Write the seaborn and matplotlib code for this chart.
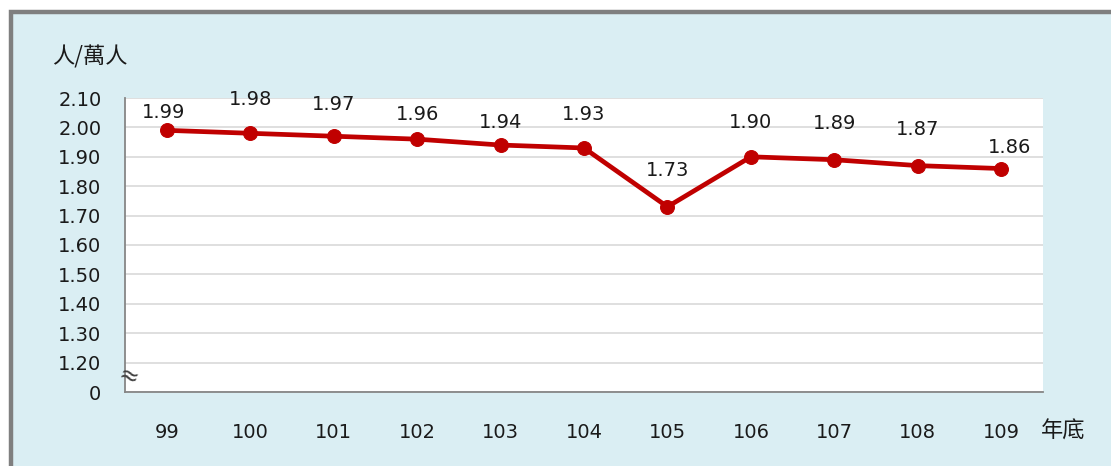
import matplotlib
matplotlib.use("Agg")
import matplotlib.pyplot as plt
from matplotlib.patches import Rectangle
import seaborn as sns
import pandas as pd
import numpy as np

years = ["99", "100", "101", "102", "103", "104", "105", "106", "107", "108", "109"]
rates = [1.99, 1.98, 1.97, 1.96, 1.94, 1.93, 1.73, 1.90, 1.89, 1.87, 1.86]
ytick_values = [1.10, 1.20, 1.30, 1.40, 1.50, 1.60, 1.70, 1.80, 1.90, 2.00, 2.10]
ytick_labels = ["0", "1.20", "1.30", "1.40", "1.50", "1.60", "1.70", "1.80", "1.90", "2.00", "2.10"]
y_unit = "人/萬人"
x_unit = "年底"

# label offsets (points) for the value annotations
label_dy = [13, 24, 23, 18, 16, 24, 26, 25, 26, 26, 15]
label_dx = [-2, 0, 0, 0, 0, 0, 0, 0, 0, 0, 6]

sns.set_theme(style="white")
plt.rcParams['font.family'] = ['DejaVu Sans', 'Noto Sans CJK TC']

fig = plt.figure(figsize=(11.11, 4.66), dpi=100, facecolor="white")
bg = Rectangle((11/1111, -0.2), 1.2, (466-12)/466 + 0.2, transform=fig.transFigure,
               facecolor="#DAEEF3", edgecolor="#7F7F7F", lw=3.2, zorder=-10)
fig.add_artist(bg)

ax = fig.add_axes([125/1111, 74/466, 918/1111, 294/466])
ax.set_facecolor("white")

df = pd.DataFrame({"year": years, "rate": rates})
sns.lineplot(data=df, x="year", y="rate", ax=ax, color="#C00000", lw=3.4,
             marker="o", markersize=10, markeredgecolor="#C00000", sort=False)

ax.set_xlim(-0.5, len(years) - 0.5)
ax.set_ylim(ytick_values[0], ytick_values[-1])
ax.set_yticks(ytick_values)
ax.set_yticklabels(ytick_labels)
ax.set_xticks(range(len(years)))
ax.set_xticklabels(years)
ax.set_xticks(np.arange(-0.5, len(years)), minor=True)
ax.tick_params(axis="x", which="major", length=0, pad=22, labelsize=14, labelcolor="#1a1a1a")
ax.tick_params(axis="x", which="minor", length=6, width=1.2, color="#868686", direction="out")
ax.tick_params(axis="y", which="major", length=5, width=1.2, color="#868686", direction="out",
               pad=12, labelsize=14, labelcolor="#1a1a1a")
ax.yaxis.grid(True, color="#D9D9D9", lw=1.2)
ax.set_axisbelow(True)
for s in ["top", "right"]:
    ax.spines[s].set_visible(False)
for s in ["left", "bottom"]:
    ax.spines[s].set_color("#868686")
    ax.spines[s].set_linewidth(1.3)
ax.set_xlabel("")
ax.set_ylabel("")

for i, v in enumerate(rates):
    ax.annotate(f"{v:.2f}", (i, v), xytext=(label_dx[i], label_dy[i]), textcoords="offset points",
                ha="center", va="center", fontsize=14, color="#1a1a1a")

ax.text(0.004, 0.05, "≈", transform=ax.transAxes, ha="center", va="center", fontsize=17,
        color="#404040", rotation=-20)

fig.text(90/1111, 1 - 57/466, y_unit, ha="center", va="center", fontsize=16,
         family=['Noto Sans CJK TC', 'DejaVu Sans'], color="#1a1a1a")
fig.text(1063/1111, 1 - 431/466, x_unit, ha="center", va="center", fontsize=16,
         family=['Noto Sans CJK TC', 'DejaVu Sans'], color="#1a1a1a")

fig.savefig("out.png", dpi=100, facecolor="white")
